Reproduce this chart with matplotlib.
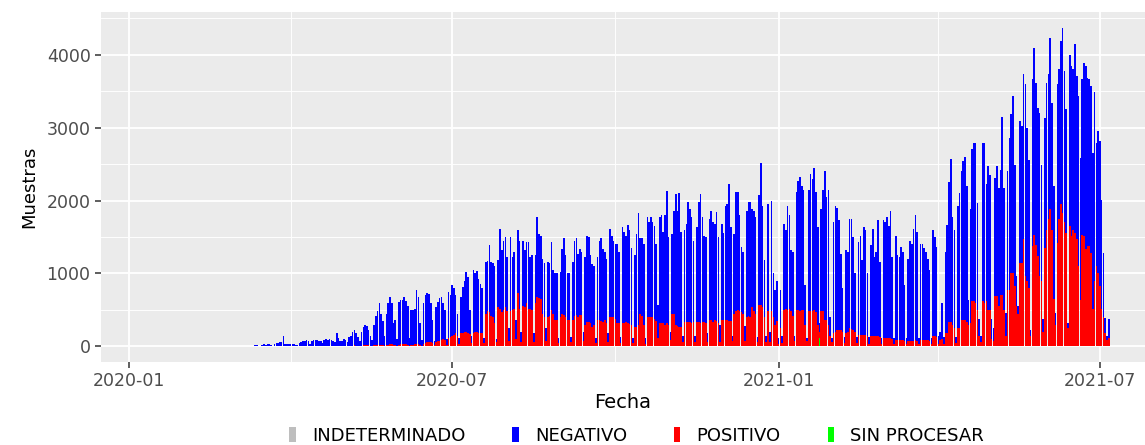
import numpy as np
import pandas as pd
import matplotlib
matplotlib.use("Agg")
import matplotlib.pyplot as plt
import matplotlib.dates as mdates
from matplotlib.patches import Patch

# Daily samples, one row per week (Monday .. Sunday), first Monday 2020-03-02
start_monday = "2020-03-02"

# total samples per day (top of the stacked bar)
total = [
    [0, 0, 0, 0, 5, 8, 3],
    [10, 12, 8, 15, 20, 10, 5],
    [20, 30, 25, 40, 35, 20, 10],
    [40, 50, 45, 60, 55, 140, 30],
    [40, 35, 30, 40, 35, 25, 15],
    [50, 60, 70, 80, 90, 70, 40],
    [80, 90, 85, 90, 80, 70, 50],
    [90, 100, 95, 100, 90, 80, 60],
    [190, 110, 80, 70, 100, 90, 60],
    [130, 150, 200, 220, 180, 130, 80],
    [200, 260, 300, 280, 220, 150, 90],
    [300, 420, 480, 590, 450, 350, 150],
    [450, 590, 680, 600, 320, 360, 100],
    [610, 630, 640, 680, 620, 560, 110],
    [500, 500, 520, 780, 680, 320, 90],
    [590, 700, 730, 720, 600, 360, 80],
    [545, 610, 660, 680, 600, 500, 100],
    [750, 700, 840, 800, 700, 440, 110],
    [680, 820, 900, 1020, 950, 500, 140],
    [1045, 1000, 1040, 930, 850, 800, 110],
    [1160, 1170, 1390, 1160, 1150, 1100, 100],
    [1180, 1610, 1320, 1450, 1500, 1230, 250],
    [1500, 1230, 1300, 360, 1590, 1450, 200],
    [1450, 1320, 1430, 1430, 1230, 1250, 180],
    [1250, 1770, 1545, 1520, 1200, 1150, 250],
    [1160, 1150, 1430, 1045, 1000, 1000, 120],
    [1020, 1340, 1480, 1250, 1000, 1000, 130],
    [1160, 1450, 1480, 1270, 1340, 1300, 200],
    [1230, 1520, 1500, 1250, 1130, 1100, 120],
    [1230, 1450, 1480, 1340, 1300, 1200, 180],
    [1610, 1520, 1450, 1410, 1410, 1300, 130],
    [1640, 1570, 1520, 1660, 1600, 1350, 120],
    [1250, 1545, 1830, 1480, 1480, 1400, 110],
    [1770, 1700, 1770, 1700, 1650, 1400, 570],
    [1770, 1800, 1570, 1800, 2130, 1500, 200],
    [1545, 1860, 2090, 1860, 2100, 1570, 150],
    [1590, 1680, 1980, 1890, 1770, 1450, 140],
    [1640, 1980, 2090, 1770, 1520, 1500, 180],
    [1750, 1860, 1700, 1680, 1840, 1500, 300],
    [1680, 1550, 1930, 1950, 2220, 1640, 150],
    [1545, 2110, 2110, 1800, 1360, 1300, 280],
    [1860, 1980, 1980, 1890, 1850, 1770, 130],
    [2070, 2520, 1930, 1180, 150, 1950, 200],
    [2000, 1000, 770, 900, 120, 770, 150],
    [1680, 1590, 1930, 1800, 1320, 1300, 140],
    [2110, 2270, 2320, 2200, 2150, 840, 120],
    [2140, 2360, 2300, 2450, 2110, 1640, 320],
    [1890, 2140, 2410, 2050, 2140, 410, 120],
    [1700, 1930, 1900, 1730, 1270, 800, 130],
    [1320, 1300, 1750, 1740, 1500, 1000, 130],
    [1430, 1520, 1180, 1640, 1600, 1000, 130],
    [1390, 1610, 1230, 1300, 1730, 1160, 120],
    [1730, 1700, 1770, 1650, 1860, 1230, 120],
    [1520, 1250, 1230, 1360, 1300, 840, 110],
    [1200, 1450, 1400, 1610, 1800, 1570, 120],
    [1410, 1400, 1350, 1300, 1200, 1045, 120],
    [1590, 1500, 1360, 150, 200, 590, 130],
    [1300, 1660, 2250, 2570, 1770, 1600, 130],
    [1930, 2100, 2410, 2545, 2590, 2200, 640],
    [1880, 2700, 2790, 2790, 1970, 370, 150],
    [2790, 2790, 2220, 2470, 2350, 380, 255],
    [2310, 2470, 2170, 2420, 3150, 2170, 460],
    [2400, 2860, 3180, 3430, 2490, 960, 550],
    [3090, 3020, 3740, 3590, 3000, 2560, 230],
    [3660, 4090, 3610, 3270, 3200, 2490, 370],
    [3130, 3610, 3730, 4230, 3340, 2200, 460],
    [3590, 3800, 4180, 4365, 3770, 3250, 320],
    [4000, 3840, 3800, 4140, 3700, 3430, 2580],
    [3660, 3890, 3840, 3680, 3660, 3570, 2650],
    [3480, 2790, 2950, 2810, 2010, 1280, 390],
    [150, 380],
]

# POSITIVO samples per day
positivo = [
    [0, 0, 0, 0, 1, 1, 0],
    [1, 1, 1, 2, 2, 1, 0],
    [2, 3, 2, 4, 3, 2, 1],
    [3, 4, 3, 5, 4, 8, 2],
    [3, 3, 2, 3, 3, 2, 1],
    [4, 5, 5, 6, 6, 5, 3],
    [6, 7, 6, 7, 6, 5, 4],
    [7, 8, 7, 8, 7, 6, 5],
    [10, 8, 6, 6, 8, 7, 5],
    [8, 10, 12, 14, 12, 10, 6],
    [12, 15, 18, 16, 14, 10, 6],
    [15, 20, 22, 25, 20, 18, 10],
    [20, 25, 30, 28, 18, 20, 8],
    [25, 28, 30, 30, 28, 25, 10],
    [25, 25, 28, 35, 30, 20, 8],
    [40, 50, 55, 60, 60, 50, 15],
    [60, 70, 80, 90, 100, 90, 25],
    [110, 130, 150, 160, 180, 150, 40],
    [180, 190, 200, 200, 190, 170, 50],
    [190, 200, 200, 190, 190, 180, 50],
    [450, 480, 470, 420, 400, 320, 60],
    [545, 520, 470, 500, 545, 480, 80],
    [480, 500, 520, 100, 730, 520, 60],
    [560, 540, 590, 520, 520, 500, 60],
    [600, 680, 660, 650, 450, 410, 80],
    [410, 420, 500, 450, 360, 360, 50],
    [400, 450, 430, 400, 360, 360, 60],
    [360, 420, 430, 400, 430, 430, 70],
    [300, 330, 340, 320, 270, 300, 50],
    [360, 360, 350, 330, 360, 320, 60],
    [410, 400, 410, 380, 320, 320, 50],
    [320, 320, 330, 320, 310, 300, 50],
    [270, 270, 300, 450, 420, 300, 40],
    [400, 410, 410, 400, 380, 350, 120],
    [320, 320, 320, 300, 320, 300, 90],
    [450, 450, 300, 280, 270, 270, 60],
    [340, 340, 340, 330, 320, 330, 60],
    [330, 330, 320, 340, 330, 320, 60],
    [360, 360, 340, 360, 350, 320, 60],
    [360, 360, 360, 360, 350, 350, 80],
    [450, 480, 500, 480, 470, 450, 80],
    [410, 420, 410, 545, 480, 450, 60],
    [570, 570, 540, 400, 60, 480, 60],
    [480, 400, 300, 350, 40, 250, 50],
    [500, 520, 500, 520, 480, 420, 80],
    [500, 500, 480, 500, 500, 300, 80],
    [480, 480, 480, 500, 470, 300, 90],
    [480, 480, 360, 360, 300, 140, 60],
    [180, 200, 230, 230, 230, 200, 50],
    [180, 200, 250, 240, 230, 200, 50],
    [160, 160, 160, 160, 160, 150, 40],
    [140, 140, 140, 140, 140, 130, 40],
    [110, 110, 110, 110, 110, 100, 30],
    [90, 90, 90, 90, 90, 80, 30],
    [80, 80, 70, 80, 90, 70, 30],
    [90, 90, 90, 90, 90, 80, 30],
    [140, 140, 130, 40, 90, 100, 30],
    [180, 180, 340, 340, 300, 250, 50],
    [250, 250, 360, 360, 360, 340, 300],
    [325, 620, 620, 600, 500, 150, 60],
    [620, 600, 620, 500, 500, 100, 80],
    [690, 690, 560, 710, 700, 500, 150],
    [780, 780, 1010, 1010, 830, 550, 450],
    [1150, 1150, 1470, 960, 900, 800, 150],
    [1370, 1530, 1390, 1240, 960, 900, 200],
    [1350, 1600, 1750, 1880, 1600, 650, 300],
    [1420, 1740, 1950, 1830, 1700, 1560, 250],
    [1650, 1510, 1600, 1560, 1470, 1100, 640],
    [1530, 1510, 1330, 1370, 1370, 1280, 510],
    [900, 1100, 1010, 830, 510, 400, 190],
    [95, 110],
]

# SIN PROCESAR: a single day
sin_procesar_fecha = "2021-01-24"
sin_procesar_valor = 110

categorias = ["INDETERMINADO", "NEGATIVO", "POSITIVO", "SIN PROCESAR"]
colores = ["#BEBEBE", "#0000FF", "#FF0000", "#00FF00"]

tot = np.array(sum(total, []), dtype=float)
pos = np.array(sum(positivo, []), dtype=float)
fechas = pd.date_range(start_monday, periods=len(tot), freq="D")
sinp = np.where(fechas == pd.Timestamp(sin_procesar_fecha), sin_procesar_valor, 0.0)
neg = np.clip(tot - pos - sinp, 0, None)

x = mdates.date2num(fechas)

fig = plt.figure(figsize=(11.45, 4.45), dpi=100)
ax = fig.add_axes([101 / 1145, 1 - 362 / 445, 1 - 101 / 1145, 350 / 445])
ax.set_facecolor("#EBEBEB")

ax.bar(x, sinp, width=0.9, color=colores[3], linewidth=0)
ax.bar(x, pos, width=0.9, bottom=sinp, color=colores[2], linewidth=0)
ax.bar(x, neg, width=0.9, bottom=sinp + pos, color=colores[1], linewidth=0)

x0 = mdates.date2num(pd.Timestamp("2020-01-01"))
ax.set_xlim(x0 - 15.8, x0 + 572.4)
ax.set_ylim(-213, 4583)

ax.xaxis.set_major_locator(mdates.MonthLocator(bymonth=[1, 7]))
ax.xaxis.set_minor_locator(mdates.MonthLocator(bymonth=[4, 10]))
ax.xaxis.set_major_formatter(mdates.DateFormatter("%Y-%m"))
ax.set_yticks([0, 1000, 2000, 3000, 4000])
ax.set_yticks([500, 1500, 2500, 3500, 4500], minor=True)

ax.grid(which="major", color="white", linewidth=1.3)
ax.grid(which="minor", color="white", linewidth=0.65)
ax.set_axisbelow(True)
for s in ax.spines.values():
    s.set_visible(False)

ax.tick_params(which="major", length=4, width=1.1, color="#333333",
               labelcolor="#4D4D4D", labelsize=12.5)
ax.tick_params(which="minor", length=0)

ax.set_xlabel("Fecha", fontsize=14, labelpad=2)
ax.set_ylabel("Muestras", fontsize=13, labelpad=6,
              family=["Liberation Sans Narrow", "DejaVu Sans"])

handles = [Patch(facecolor=c, edgecolor="none") for c in colores]
fig.legend(handles, categorias, loc="center", bbox_to_anchor=(0.556, 0.02),
           ncol=4, frameon=False, fontsize=13, handlelength=0.35,
           handleheight=0.9, handletextpad=0.9, columnspacing=2.6)

fig.savefig("out.png", dpi=100)
